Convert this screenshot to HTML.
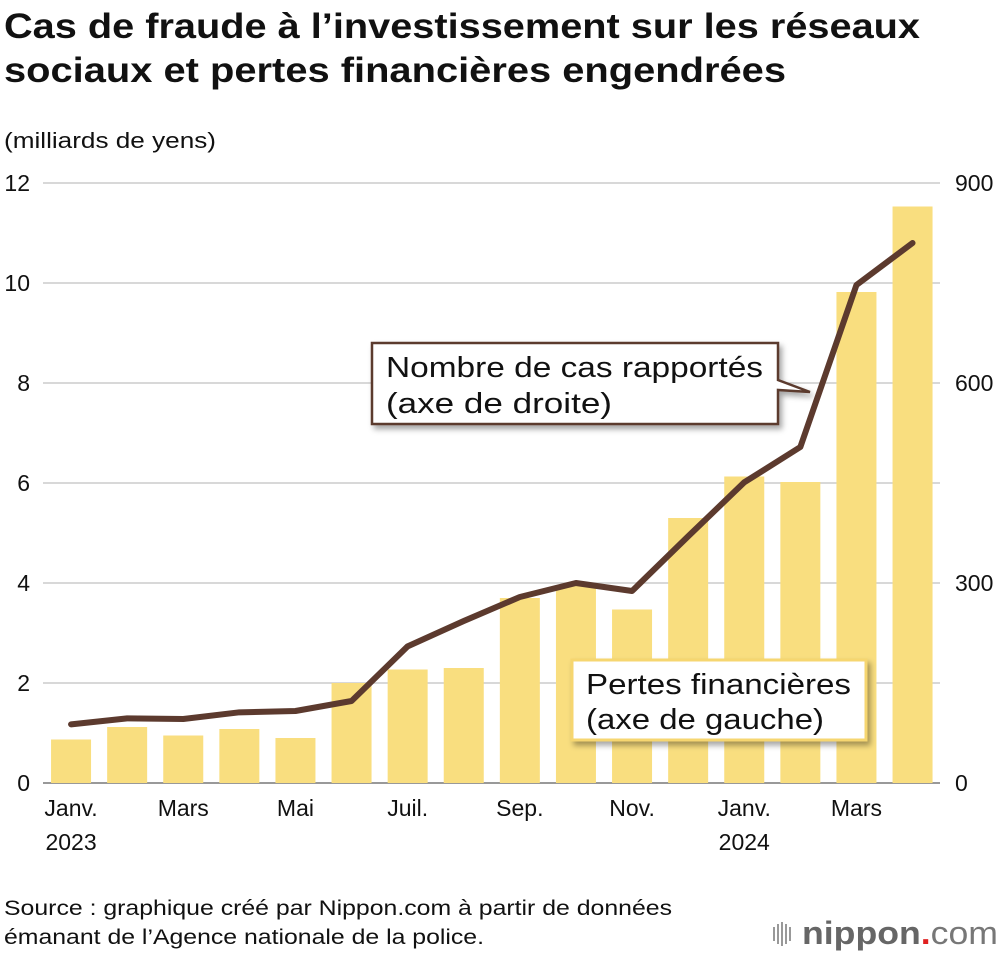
<!DOCTYPE html>
<html><head><meta charset="utf-8"><style>
body{margin:0;background:#fff;width:1000px;height:956px;overflow:hidden;font-family:"Liberation Sans",sans-serif;}
svg text{font-family:"Liberation Sans",sans-serif;}
</style></head><body>
<svg id="chart" width="1000" height="956" xmlns="http://www.w3.org/2000/svg">
<defs><filter id="sh" x="-10%" y="-10%" width="130%" height="140%"><feDropShadow dx="3" dy="4" stdDeviation="3" flood-color="#000" flood-opacity="0.35"/></filter></defs>
<text x="4" y="38" font-size="35" font-weight="bold" fill="#111" textLength="916" lengthAdjust="spacingAndGlyphs">Cas de fraude à l’investissement sur les réseaux</text>
<text x="4" y="82" font-size="35" font-weight="bold" fill="#111" textLength="782" lengthAdjust="spacingAndGlyphs">sociaux et pertes financières engendrées</text>
<text x="4" y="148" font-size="22" fill="#111" textLength="212" lengthAdjust="spacingAndGlyphs">(milliards de yens)</text>
<g id="grid"></g><g id="bars"></g><g id="line"></g><g id="axes"></g>
<g>
<path d="M372,343 H778 V380 L810,392 L778,390 V424 H372 Z" fill="#fff" stroke="#5c3a2e" stroke-width="2.5" filter="url(#sh)"/>
<text x="386" y="377" font-size="29" fill="#111" textLength="377" lengthAdjust="spacingAndGlyphs">Nombre de cas rapportés</text>
<text x="386" y="413" font-size="29" fill="#111" textLength="226" lengthAdjust="spacingAndGlyphs">(axe de droite)</text>
</g>
<g>
<rect x="572" y="660" width="294" height="80" fill="#fff" stroke="#f6d670" stroke-width="3" filter="url(#sh)"/>
<text x="586" y="694" font-size="29" fill="#111" textLength="265" lengthAdjust="spacingAndGlyphs">Pertes financières</text>
<text x="586" y="729" font-size="29" fill="#111" textLength="238" lengthAdjust="spacingAndGlyphs">(axe de gauche)</text>
</g>
<text x="4" y="915" font-size="21" fill="#111" textLength="668" lengthAdjust="spacingAndGlyphs">Source : graphique créé par Nippon.com à partir de données</text>
<text x="4" y="944" font-size="21" fill="#111" textLength="480" lengthAdjust="spacingAndGlyphs">émanant de l’Agence nationale de la police.</text>
<g>
<g fill="#999"><rect x="773" y="927" width="2" height="14"/><rect x="777" y="924" width="2" height="20"/><rect x="781" y="922" width="2" height="24"/><rect x="785" y="924" width="2" height="20"/><rect x="789" y="927" width="2" height="14"/></g>
<text x="802" y="944" font-size="32" font-weight="bold" fill="#666" textLength="196" lengthAdjust="spacingAndGlyphs">nippon<tspan fill="#e02020">.</tspan><tspan font-weight="normal" fill="#777">com</tspan></text>
</g>
</svg>
<script>
const months=["Janv.","","Mars","","Mai","","Juil.","","Sep.","","Nov.","","Janv.","","Mars",""];
const years=["2023","","","","","","","","","","","","2024","","",""];
const losses=[0.87,1.12,0.95,1.08,0.9,2.0,2.27,2.3,3.7,3.95,3.47,5.3,6.13,6.02,9.82,11.53];
const cases=[88,97,96,106,108,123,205,243,279,300,288,370,451,504,747,810];
const leftTicks=[0,2,4,6,8,10,12];
const rightTicks=[0,300,600,900];
const NS="http://www.w3.org/2000/svg";
const x0=43,step=56.1,bw=40,yBase=783,yTop=183;
const xC=i=>x0+step*(i+0.5);
const yL=v=>yBase-(v/12)*(yBase-yTop);
const yR=v=>yBase-(v/900)*(yBase-yTop);
function mk(tag,attrs,parent){const e=document.createElementNS(NS,tag);for(const k in attrs)e.setAttribute(k,attrs[k]);document.getElementById(parent).appendChild(e);return e;}
leftTicks.forEach(t=>{
 const g=mk("line",{x1:43,x2:940,y1:yL(t),y2:yL(t),stroke:t===0?"#999":"#ccc","stroke-width":t===0?2:1.5},"grid");
 
 
 const l=mk("text",{x:30,y:yL(t)+8,"font-size":23,"text-anchor":"end",fill:"#111"},"axes");l.textContent=t;
 
 
});
rightTicks.forEach(t=>{
 const l=mk("text",{x:955,y:yR(t)+8,"font-size":23,fill:"#111"},"axes");l.textContent=t;
 
 
});
losses.forEach((v,i)=>{
 const r=mk("rect",{x:xC(i)-bw/2,y:yL(v),width:bw,height:yBase-yL(v),fill:"#f9de7f"},"bars");
 
 
 if(months[i]){const t=mk("text",{x:xC(i),y:816,"font-size":23,"text-anchor":"middle",fill:"#111"},"axes");t.textContent=months[i];
 
 }
 if(years[i]){const t=mk("text",{x:xC(i),y:850,"font-size":23,"text-anchor":"middle",fill:"#111"},"axes");t.textContent=years[i];
 
 }
});
const p=mk("polyline",{points:cases.map((v,i)=>xC(i)+","+yR(v)).join(" "),fill:"none",stroke:"#5c3a2e","stroke-width":6,"stroke-linejoin":"round","stroke-linecap":"round"},"line");


</script>
</body></html>
